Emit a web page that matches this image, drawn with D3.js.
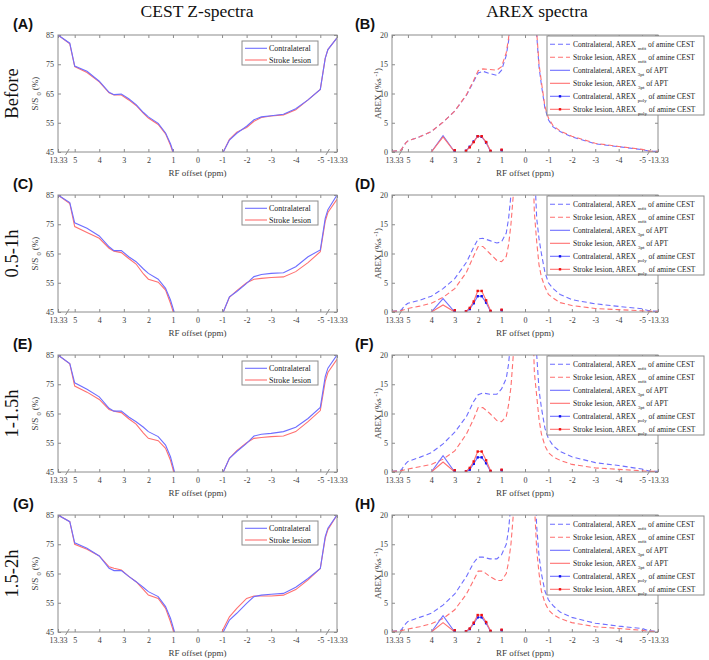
<!DOCTYPE html>
<html><head><meta charset="utf-8">
<script src="https://cdn.jsdelivr.net/npm/d3@7"></script>
<style>
body{margin:0;background:#fff;}
svg{display:block;}
text{font-family:"Liberation Serif","Times New Roman",serif;}
</style>
</head><body>
<svg id="c" width="709" height="660"></svg>
<script>
// ---------------- DATA ----------------
const rowLabels = ["Before", "0.5-1h", "1-1.5h", "1.5-2h"];
const zLetters = ["(A)", "(C)", "(E)", "(G)"];
const aLetters = ["(B)", "(D)", "(F)", "(H)"];
const xTicks = [13.33, 5, 4, 3, 2, 1, 0, -1, -2, -3, -4, -5, -13.33];
const zTicks = [45, 55, 65, 75, 85];
const aTicks = [0, 5, 10, 15, 20];

// CEST Z-spectra offsets (ppm)
const zPpm = [13.33, 5.2, 5, 4.5, 4, 3.6, 3.4, 3.1, 2.8, 2.5, 2.2, 2, 1.6, 1.3, 1.1, 0.95, 0.8, 0.5,
              -0.5, -0.8, -1.05, -1.3, -1.6, -2, -2.3, -2.6, -3, -3.5, -4, -4.5, -5, -5.2, -5.5, -13.33];
// Before (A)
const zContraA = [85, 82.2, 74.4, 72.6, 69.2, 65.4, 64.6, 64.8, 63.2, 61.2, 58.5, 57, 54.8, 51.5, 47.8, 44, 40, 30,
                  30, 39, 45, 49.1, 51.4, 53.8, 56, 57, 57.4, 57.9, 59.8, 62.8, 66.4, 77, 80, 84];
const zLesionA = [85, 82, 74.2, 72.2, 69, 65.2, 64.5, 64.5, 62.8, 60.9, 58.2, 56.6, 54.4, 51.2, 47.3, 43.6, 39.8, 30,
                  30, 39, 45, 49.3, 51.8, 53.4, 55.5, 56.8, 57.3, 57.7, 59.4, 62.8, 66.4, 77, 80, 84];
// 0.5-1h (C)
const zContraC = [85, 82.4, 75.5, 73.6, 71, 67.3, 66, 66, 63.9, 62.2, 59.7, 58.2, 56.2, 53.1, 49.1, 45, 41, 31,
                  30, 40, 45, 50.2, 52, 54.8, 57.1, 57.8, 58.2, 58.4, 60.5, 63.9, 66.2, 77, 80, 85];
const zLesionC = [85, 82.1, 74.2, 72.2, 70.2, 66.8, 65.8, 65.3, 63.3, 61.4, 58, 56.2, 55.2, 52.5, 48, 44, 40, 30,
                  30, 40, 45, 50, 52.3, 55, 56.2, 56.5, 56.8, 57, 58.8, 61.9, 65.6, 76, 79, 83.5];
// 1-1.5h (E)
const zContraE = [85, 82.1, 75.5, 73.3, 70.7, 66.8, 65.8, 65.8, 63.8, 62.2, 60.3, 58.8, 57.1, 54.2, 50.2, 45.5, 41, 31,
                  30, 40, 45, 49.7, 52, 54.8, 57.3, 57.9, 58.2, 58.8, 60.3, 63.3, 67.1, 77.6, 80.5, 85];
const zLesionE = [85, 82, 74.4, 72.3, 69.8, 66.4, 65.8, 65.3, 63.2, 61.4, 58.3, 56.5, 55.7, 53.1, 49, 44.5, 40, 30,
                  30, 40, 45, 49.7, 52.3, 55, 56.5, 56.8, 57.1, 57.3, 58.8, 62.2, 66, 76, 79, 83.5];
// 1.5-2h (G)
const zContraG = [85, 82.7, 75.5, 73.6, 71, 66.8, 66, 66, 64, 62.2, 60.2, 58.8, 57.1, 53.7, 49.7, 45.5, 41, 31,
                  30, 40, 45, 49.1, 51.4, 54.8, 57.1, 57.6, 57.9, 58.2, 60.3, 63.3, 66.7, 77.6, 80.5, 85];
const zLesionG = [85, 82.7, 75, 73.3, 71, 67.3, 66.8, 66.2, 64, 62.2, 59.5, 57.6, 56.5, 53.1, 48.5, 44.5, 40, 30,
                  30, 41, 46, 50.2, 53.1, 56.5, 57.3, 57.3, 57.3, 57.6, 59.5, 62.8, 66.7, 77, 80, 85];

// AREX spectra offsets (ppm) for the mfit curves
const aPpm = [13.33, 5.3, 5.1, 5, 4.5, 4, 3.5, 3, 2.5, 2.2, 2, 1.8, 1.5, 1.2, 1, 0.8, 0.7, 0.6, 0.5, 0.4, 0.3,
              -0.3, -0.4, -0.5, -0.6, -0.7, -0.85, -1, -1.2, -1.5, -2, -3, -4, -5, -5.3, -13.33];
const mfitContraB = [0.1, 0.3, 1.5, 1.9, 2.6, 3.5, 5.1, 7.0, 9.7, 12.0, 13.5, 13.8, 13.4, 13.1, 14.0, 16.5, 19, 24, 32, 45, 60,
                     60, 40, 20, 14.5, 11.5, 7.5, 5.5, 4.3, 3.5, 2.6, 1.4, 0.9, 0.4, 0.15, 0.1];
const mfitLesionB = [0.1, 0.3, 1.5, 1.9, 2.6, 3.5, 5.1, 7.0, 9.8, 12.2, 13.9, 14.2, 14.1, 14.0, 14.6, 17, 19.5, 24, 32, 45, 60,
                     60, 41, 20.5, 15, 12, 7.8, 5.8, 4.5, 3.6, 2.7, 1.5, 0.95, 0.45, 0.15, 0.1];
const mfitContraD = [0.1, 0.3, 1.2, 1.5, 2.0, 2.7, 4.0, 5.7, 8.5, 11.0, 12.5, 12.6, 12.2, 11.8, 12.0, 13.5, 16, 20, 27, 38, 55,
                     55, 25, 16, 12.5, 10, 6.8, 5.0, 4.0, 3.0, 2.1, 1.4, 0.95, 0.55, 0.2, 0.1];
const mfitLesionD = [0.1, 0.2, 0.5, 0.6, 1.0, 1.5, 2.5, 4.0, 6.8, 9.5, 11.2, 11.2, 10.0, 8.8, 8.6, 9.5, 11.5, 15, 20, 30, 45,
                     30, 17, 12, 8, 6, 4.3, 3.0, 2.4, 1.6, 1.1, 0.6, 0.4, 0.2, 0.1, 0.1];
const mfitContraF = [0.1, 0.3, 1.4, 1.8, 2.5, 3.3, 4.8, 6.8, 9.5, 12.0, 13.2, 13.5, 13.3, 13.3, 14.2, 16, 18.5, 23, 30, 42, 58,
                     58, 30, 20, 14, 11, 7.5, 5.7, 4.5, 3.5, 2.6, 1.6, 1.1, 0.5, 0.15, 0.1];
const mfitLesionF = [0.1, 0.2, 0.4, 0.5, 0.9, 1.3, 2.2, 3.6, 6.5, 9.0, 11.0, 11.0, 10.0, 8.8, 8.6, 9.5, 11.5, 14.5, 20, 30, 45,
                     30, 17, 13, 9, 6.5, 4.5, 3.3, 2.6, 2.0, 1.3, 0.7, 0.45, 0.2, 0.1, 0.1];
const mfitContraH = [0.1, 0.3, 1.4, 1.8, 2.5, 3.2, 4.6, 6.5, 9.5, 11.8, 12.8, 12.8, 12.5, 12.5, 13.2, 15, 17.5, 22, 30, 42, 58,
                     58, 28, 18, 13, 10, 7, 5.5, 4.5, 3.4, 2.5, 1.5, 1.0, 0.6, 0.2, 0.1];
const mfitLesionH = [0.1, 0.2, 0.4, 0.5, 0.9, 1.4, 2.3, 3.8, 6.5, 8.8, 10.4, 10.4, 9.5, 8.8, 8.8, 10, 12, 15, 20, 30, 45,
                     40, 22, 14, 10, 7, 5, 3.8, 3.0, 2.3, 1.6, 0.9, 0.6, 0.3, 0.1, 0.1];

// AREX 3pt of APT
const aptPpm = [4, 3.5, 3];
const aptContraB = [0, 2.8, 0], aptLesionB = [0, 2.6, 0];
const aptContraD = [0, 2.3, 0], aptLesionD = [0, 1.2, 0];
const aptContraF = [0, 2.8, 0], aptLesionF = [0, 1.7, 0];
const aptContraH = [0, 2.8, 0], aptLesionH = [0, 1.6, 0];

// AREX poly of amine CEST
const polyPpm = [2.52, 2.36, 2.19, 2.02, 1.85, 1.66, 1.47];
const polyContraB = [0.2, 0.9, 1.8, 2.7, 2.6, 1.6, 0.1], polyLesionB = [0.2, 0.8, 1.7, 2.7, 2.7, 1.7, 0.2];
const polyContraD = [0.1, 0.5, 1.5, 2.7, 2.7, 1.6, 0.1], polyLesionD = [0.1, 0.7, 1.8, 3.6, 3.6, 2.0, 0.2];
const polyContraF = [0.1, 0.4, 1.4, 2.5, 2.5, 1.5, 0.1], polyLesionF = [0.1, 0.7, 1.8, 3.5, 3.5, 2.0, 0.2];
const polyContraH = [0.1, 0.5, 1.4, 2.5, 2.5, 1.5, 0.1], polyLesionH = [0.1, 0.6, 1.6, 2.9, 2.9, 1.7, 0.2];
const polyIsoPpm = [3.0, 1.0];
const polyIsoContra = [0.2, 0.3], polyIsoLesion = [0.3, 0.4];

const zLegend = ["Contralateral", "Stroke lesion"];
const aLegendMain = ["Contralateral, AREX", "Stroke lesion, AREX", "Contralateral, AREX", "Stroke lesion, AREX", "Contralateral, AREX", "Stroke lesion, AREX"];
const aLegendSub = ["mfit", "mfit", "3pt", "3pt", "poly", "poly"];
const aLegendTail = ["of amine CEST", "of amine CEST", "of APT", "of APT", "of amine CEST", "of amine CEST"];

// --------------- LAYOUT / STYLE ---------------
const BLUE = "#6e6eff", RED = "#ff7070", BLUE_M = "#1010f0", RED_M = "#f01010";
const AX = "#8c8c8c", TXT = "#3a3a3a";
const rowTop = [35, 195, 355, 515];
const PH = 117;
const LP = {x0: 58, x1: 337}, RP = {x0: 392, x1: 658};

const zRows = [[zContraA, zLesionA], [zContraC, zLesionC], [zContraE, zLesionE], [zContraG, zLesionG]];
const aRows = [
  {mc: mfitContraB, ml: mfitLesionB, ac: aptContraB, al: aptLesionB, pc: polyContraB, pl: polyLesionB},
  {mc: mfitContraD, ml: mfitLesionD, ac: aptContraD, al: aptLesionD, pc: polyContraD, pl: polyLesionD},
  {mc: mfitContraF, ml: mfitLesionF, ac: aptContraF, al: aptLesionF, pc: polyContraF, pl: polyLesionF},
  {mc: mfitContraH, ml: mfitLesionH, ac: aptContraH, al: aptLesionH, pc: polyContraH, pl: polyLesionH}
];

const svg = d3.select("#c");
const defs = svg.append("defs");

function makeX(p) {
  const k = (p.x1 - p.x0) / 11.36;
  return d3.scaleLinear().domain([13.33, 5.3, -5.3, -13.33])
    .range([p.x0, p.x0 + 0.38 * k, p.x1 - 0.38 * k, p.x1]);
}

function frame(g, x, y, w, yTicks, id, shiftFirst) {
  const h = PH;
  g.append("rect").attr("x", 0).attr("y", 0).attr("width", w).attr("height", h)
    .attr("fill", "#fff");
  defs.append("clipPath").attr("id", id).append("rect")
    .attr("x", 0).attr("y", 0).attr("width", w).attr("height", h);
  const styleAxis = a => {
    a.select(".domain").remove();
    a.selectAll("line").attr("stroke", AX);
    a.selectAll("text").attr("fill", TXT).style("font-size", "8px")
      .style("font-family", '"Liberation Serif",serif');
  };
  const bx = g.append("g").attr("transform", `translate(0,${h})`)
    .call(d3.axisBottom(x).tickValues(xTicks).tickSize(-3).tickPadding(5).tickFormat(d => String(d)))
    .call(styleAxis);
  if (shiftFirst) {
    bx.selectAll(".tick").filter(d => d === 13.33).select("text").attr("x", shiftFirst);
  }
  g.append("g")
    .call(d3.axisTop(x).tickValues(xTicks).tickSize(-3).tickFormat(""))
    .call(styleAxis);
  g.append("g")
    .call(d3.axisLeft(y).tickValues(yTicks).tickSize(-3).tickPadding(4))
    .call(styleAxis);
  g.append("g").attr("transform", `translate(${w},0)`)
    .call(d3.axisRight(y).tickValues(yTicks).tickSize(-3).tickFormat(""))
    .call(styleAxis);
  // axis break marks
  [5.3, -5.3].forEach(b => {
    g.append("line").attr("x1", x(b) - 1.8).attr("y1", h + 3).attr("x2", x(b) + 1.8).attr("y2", h - 3)
      .attr("stroke", AX).attr("stroke-width", 1);
  });
}

function drawFrameBorder(g, w) {
  g.append("rect").attr("x", 0).attr("y", 0).attr("width", w).attr("height", PH)
    .attr("fill", "none").attr("stroke", AX).attr("stroke-width", 1);
}

// titles
svg.append("text").attr("x", 197).attr("y", 17).attr("text-anchor", "middle")
  .style("font-size", "17.5px").attr("fill", "#111").text("CEST Z-spectra");
svg.append("text").attr("x", 537).attr("y", 17).attr("text-anchor", "middle")
  .style("font-size", "17.5px").attr("fill", "#111").text("AREX spectra");

rowLabels.forEach((lab, i) => {
  const top = rowTop[i];
  const cy = top + PH / 2;
  svg.append("text").attr("transform", `translate(17.5,${cy}) rotate(-90)`).attr("text-anchor", "middle")
    .style("font-size", "18.5px").attr("fill", "#111").text(lab);
  svg.append("text").attr("x", 13).attr("y", top - 6).style("font-family", '"Liberation Sans",Arial,sans-serif')
    .style("font-weight", "bold").style("font-size", "14.5px").attr("fill", "#111").text(zLetters[i]);
  svg.append("text").attr("x", 355).attr("y", top - 6).style("font-family", '"Liberation Sans",Arial,sans-serif')
    .style("font-weight", "bold").style("font-size", "14.5px").attr("fill", "#111").text(aLetters[i]);

  // ---------- Z spectra panel ----------
  const wL = LP.x1 - LP.x0;
  const xL = makeX({x0: 0, x1: wL});
  const yL = d3.scaleLinear().domain([45, 85]).range([PH, 0]);
  const gL = svg.append("g").attr("transform", `translate(${LP.x0},${top})`);
  frame(gL, xL, yL, wL, zTicks, "clipL" + i, 0);
  const lineL = d3.line().x((d, j) => xL(zPpm[j])).y(d => yL(d));
  const cl = gL.append("g").attr("clip-path", `url(#clipL${i})`);
  cl.append("path").attr("d", lineL(zRows[i][1])).attr("fill", "none").attr("stroke", RED).attr("stroke-width", 1.1);
  cl.append("path").attr("d", lineL(zRows[i][0])).attr("fill", "none").attr("stroke", BLUE).attr("stroke-width", 1.1);
  drawFrameBorder(gL, wL);
  // legend
  const lg = gL.append("g").attr("transform", "translate(184,6)");
  lg.append("rect").attr("width", 76).attr("height", 24).attr("fill", "#fff").attr("stroke", AX);
  zLegend.forEach((t, j) => {
    const yy = 7.3 + j * 11.7;
    lg.append("line").attr("x1", 3).attr("x2", 25).attr("y1", yy).attr("y2", yy)
      .attr("stroke", j === 0 ? BLUE : RED).attr("stroke-width", 1.1);
    lg.append("text").attr("x", 27).attr("y", yy + 2.8).style("font-size", "8px").attr("fill", "#222").text(t);
  });
  // axis labels
  svg.append("text").attr("transform", `translate(38,${cy}) rotate(-90)`).attr("text-anchor", "middle")
    .style("font-size", "9px").attr("fill", TXT)
    .call(t => {
      t.append("tspan").text("S/S ");
      t.append("tspan").attr("dy", 2.5).style("font-size", "6.5px").text("0");
      t.append("tspan").attr("dy", -2.5).text(" (%)");
    });
  svg.append("text").attr("x", LP.x0 + xL(0)).attr("y", top + PH + 24).attr("text-anchor", "middle")
    .style("font-size", "9px").attr("fill", TXT).text("RF offset (ppm)");

  // ---------- AREX panel ----------
  const wR = RP.x1 - RP.x0;
  const xR = makeX({x0: 0, x1: wR});
  const yR = d3.scaleLinear().domain([0, 20]).range([PH, 0]);
  const gR = svg.append("g").attr("transform", `translate(${RP.x0},${top})`);
  frame(gR, xR, yR, wR, aTicks, "clipR" + i, 2);
  const D = aRows[i];
  const cr = gR.append("g").attr("clip-path", `url(#clipR${i})`);
  const lineM = d3.line().x((d, j) => xR(aPpm[j])).y(d => yR(d));
  const lineA = d3.line().x((d, j) => xR(aptPpm[j])).y(d => yR(d));
  const lineP = d3.line().x((d, j) => xR(polyPpm[j])).y(d => yR(d));
  cr.append("path").attr("d", lineM(D.mc)).attr("fill", "none").attr("stroke", BLUE).attr("stroke-width", 1.1).attr("stroke-dasharray", "5,3");
  cr.append("path").attr("d", lineM(D.ml)).attr("fill", "none").attr("stroke", RED).attr("stroke-width", 1.1).attr("stroke-dasharray", "5,3");
  cr.append("path").attr("d", lineA(D.ac)).attr("fill", "none").attr("stroke", BLUE).attr("stroke-width", 1.1);
  cr.append("path").attr("d", lineA(D.al)).attr("fill", "none").attr("stroke", RED).attr("stroke-width", 1.1);
  [[D.pc, BLUE, BLUE_M, polyIsoContra], [D.pl, RED, RED_M, polyIsoLesion]].forEach(([vals, c, mc, iso]) => {
    cr.append("path").attr("d", lineP(vals)).attr("fill", "none").attr("stroke", c).attr("stroke-width", 1.1);
    cr.selectAll(null).data(vals).enter().append("rect")
      .attr("x", (d, j) => xR(polyPpm[j]) - 1.2).attr("y", d => yR(d) - 1.2)
      .attr("width", 2.4).attr("height", 2.4).attr("fill", mc);
    cr.selectAll(null).data(iso).enter().append("rect")
      .attr("x", (d, j) => xR(polyIsoPpm[j]) - 1.2).attr("y", d => yR(d) - 1.2)
      .attr("width", 2.4).attr("height", 2.4).attr("fill", mc);
  });
  drawFrameBorder(gR, wR);
  // legend (extends past the right edge)
  const lr = gR.append("g").attr("transform", "translate(155,1)");
  lr.append("rect").attr("width", 157).attr("height", 79).attr("fill", "#fff").attr("stroke", AX);
  aLegendMain.forEach((t, j) => {
    const yy = 8.3 + j * 13;
    const col = j % 2 === 0 ? BLUE : RED;
    lr.append("line").attr("x1", 3).attr("x2", 23).attr("y1", yy).attr("y2", yy)
      .attr("stroke", col).attr("stroke-width", 1.1)
      .attr("stroke-dasharray", j < 2 ? "5,3" : null);
    if (j >= 4) {
      lr.append("rect").attr("x", 13 - 1.2).attr("y", yy - 1.2).attr("width", 2.4).attr("height", 2.4)
        .attr("fill", j === 4 ? BLUE_M : RED_M);
    }
    const tx = lr.append("text").attr("x", 26).attr("y", yy + 2.6).style("font-size", "7.5px").attr("fill", "#222");
    tx.append("tspan").text(t + " ");
    tx.append("tspan").attr("dy", 3).style("font-size", "5px").text(aLegendSub[j]);
    tx.append("tspan").attr("dy", -3).text(" " + aLegendTail[j]);
  });
  svg.append("text").attr("transform", `translate(381,${cy}) rotate(-90)`).attr("text-anchor", "middle")
    .style("font-size", "9px").attr("fill", TXT)
    .call(t => {
      t.append("tspan").text("AREX (%s");
      t.append("tspan").attr("dy", -3).style("font-size", "6.5px").text(" -1");
      t.append("tspan").attr("dy", 3).text(")");
    });
  svg.append("text").attr("x", RP.x0 + xR(0)).attr("y", top + PH + 24).attr("text-anchor", "middle")
    .style("font-size", "9px").attr("fill", TXT).text("RF offset (ppm)");
});
</script>
</body></html>
